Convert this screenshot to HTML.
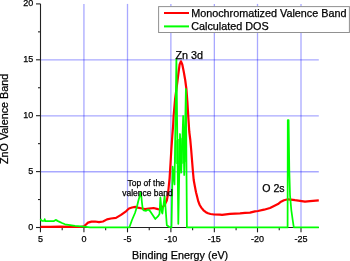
<!DOCTYPE html>
<html><head><meta charset="utf-8"><style>
html,body{margin:0;padding:0;background:#fff;}
svg{display:block;will-change:transform;}
text{font-family:"Liberation Sans",sans-serif;fill:#000;stroke:#000;stroke-width:0.25px;}
</style></head><body>
<svg width="350" height="261" viewBox="0 0 350 261">
<rect width="350" height="261" fill="#fff"/>
<g stroke="#0000ff" stroke-opacity="0.34" stroke-width="1.3" fill="none">
<line x1="83.93" y1="3.9" x2="83.93" y2="227.5"/>
<line x1="127.50" y1="3.9" x2="127.50" y2="227.5"/>
<line x1="170.88" y1="3.9" x2="170.88" y2="227.5"/>
<line x1="214.35" y1="3.9" x2="214.35" y2="227.5"/>
<line x1="257.50" y1="3.9" x2="257.50" y2="227.5"/>
<line x1="301.00" y1="3.9" x2="301.00" y2="227.5"/>
<line x1="40.5" y1="171.75" x2="318.8" y2="171.75"/>
<line x1="40.5" y1="115.85" x2="318.8" y2="115.85"/>
<line x1="40.5" y1="59.95" x2="318.8" y2="59.95"/>
</g>
<g stroke="#222" stroke-width="1.1" fill="none">
<line x1="40.5" y1="3.9" x2="40.5" y2="228"/>
<line x1="40" y1="227.5" x2="318.8" y2="227.5"/>
<line x1="36" y1="227.50" x2="40.5" y2="227.50"/>
<line x1="38" y1="199.55" x2="40.5" y2="199.55"/>
<line x1="36" y1="171.60" x2="40.5" y2="171.60"/>
<line x1="38" y1="143.65" x2="40.5" y2="143.65"/>
<line x1="36" y1="115.70" x2="40.5" y2="115.70"/>
<line x1="38" y1="87.75" x2="40.5" y2="87.75"/>
<line x1="36" y1="59.80" x2="40.5" y2="59.80"/>
<line x1="38" y1="31.85" x2="40.5" y2="31.85"/>
<line x1="36" y1="3.90" x2="40.5" y2="3.90"/>
<line x1="40.45" y1="227.5" x2="40.45" y2="232.3"/>
<line x1="62.19" y1="227.5" x2="62.19" y2="230.2"/>
<line x1="83.93" y1="227.5" x2="83.93" y2="232.3"/>
<line x1="105.67" y1="227.5" x2="105.67" y2="230.2"/>
<line x1="127.50" y1="227.5" x2="127.50" y2="232.3"/>
<line x1="149.24" y1="227.5" x2="149.24" y2="230.2"/>
<line x1="170.88" y1="227.5" x2="170.88" y2="232.3"/>
<line x1="192.62" y1="227.5" x2="192.62" y2="230.2"/>
<line x1="214.35" y1="227.5" x2="214.35" y2="232.3"/>
<line x1="236.09" y1="227.5" x2="236.09" y2="230.2"/>
<line x1="257.50" y1="227.5" x2="257.50" y2="232.3"/>
<line x1="279.24" y1="227.5" x2="279.24" y2="230.2"/>
<line x1="301.00" y1="227.5" x2="301.00" y2="232.3"/>
</g>
<polyline points="40.50,226.80 50.00,226.90 60.00,226.60 70.00,226.80 80.00,227.00 84.00,226.40 86.00,224.50 88.00,222.60 91.50,221.60 95.00,221.50 99.00,222.20 103.00,221.50 107.00,219.40 111.00,218.50 116.00,217.90 121.00,214.90 126.00,211.30 129.00,208.50 132.00,207.50 135.30,206.90 138.00,207.60 142.00,208.50 145.00,209.00 148.80,208.60 153.60,208.00 157.90,209.10 160.00,209.30 161.70,207.80 164.50,205.30 166.80,200.50 168.00,194.00 168.90,185.00 169.60,178.00 170.10,170.00 170.60,162.00 171.20,152.00 171.60,146.00 172.30,136.00 173.10,126.00 173.60,116.00 174.30,108.00 175.00,100.00 176.30,90.00 177.60,80.00 178.60,72.00 179.60,64.50 180.90,61.30 182.30,64.50 183.80,72.00 185.20,80.00 186.40,89.00 187.40,102.00 188.50,120.00 189.30,132.00 190.30,140.00 191.20,150.00 192.00,160.00 192.80,170.00 193.70,180.00 194.80,186.00 196.00,192.30 197.20,197.00 198.30,201.40 199.70,205.00 201.30,207.60 203.50,210.30 205.90,212.20 208.00,213.30 210.50,214.00 214.00,214.50 220.00,214.70 222.00,214.90 226.00,214.30 230.00,213.90 235.00,213.60 240.00,213.30 245.00,212.80 250.00,212.60 255.00,211.40 258.00,211.00 264.00,209.70 270.00,208.00 274.00,206.10 278.00,204.10 281.00,201.70 284.00,200.30 288.00,199.30 291.00,199.60 295.00,200.20 300.00,200.80 305.00,201.70 310.00,201.10 318.80,200.30" fill="none" stroke="#ff0000" stroke-width="2.2" stroke-linejoin="round"/>
<polygon points="174.9,142 177.5,139 180.5,139 182.5,137 186.9,137 186.9,161 184,163 182,164 176,164 174.9,162" fill="#00ff00" fill-opacity="0.7"/>
<polyline points="40.50,218.80 41.20,220.40 42.60,221.00 44.20,220.90 44.70,219.20 45.30,221.00 54.00,221.00 55.70,219.90 58.00,221.10 62.00,223.00 65.00,224.30 70.00,225.10 75.00,225.80 84.00,226.60 90.00,227.45 129.30,227.45 132.00,220.00 135.00,213.00 137.00,206.50 138.30,201.00 139.70,196.00 140.50,192.30 141.30,196.00 142.00,203.00 142.80,209.50 143.80,210.50 146.10,210.80 148.30,209.60 150.00,211.00 155.30,219.00 157.90,216.40 159.50,214.00 160.40,197.60 161.70,212.00 162.40,213.50 163.50,205.00 164.60,196.00 165.50,207.00 166.80,225.30 169.00,226.80 171.50,227.45 172.60,166.70 174.50,184.50 176.40,58.80 178.30,223.80 180.00,134.00 181.20,172.70 183.20,116.00 184.20,175.00 185.90,89.00 186.90,227.45 287.60,227.45 287.80,120.00 288.60,120.00 289.30,170.00 290.00,195.00 291.30,210.00 292.70,220.00 293.80,227.45 318.80,227.45" fill="none" stroke="#00ff00" stroke-width="1.75" stroke-linejoin="round"/>
<g opacity="0.999">
<g font-size="9">
<text x="33.3" y="229.90" text-anchor="end">0</text>
<text x="33.3" y="174.00" text-anchor="end">5</text>
<text x="33.3" y="118.10" text-anchor="end">10</text>
<text x="33.3" y="62.20" text-anchor="end">15</text>
<text x="33.3" y="6.30" text-anchor="end">20</text>
<text x="40.45" y="242.1" text-anchor="middle">5</text>
<text x="83.93" y="242.1" text-anchor="middle">0</text>
<text x="127.50" y="242.1" text-anchor="middle">-5</text>
<text x="170.88" y="242.1" text-anchor="middle">-10</text>
<text x="214.35" y="242.1" text-anchor="middle">-15</text>
<text x="257.50" y="242.1" text-anchor="middle">-20</text>
<text x="301.00" y="242.1" text-anchor="middle">-25</text>
</g>
<text x="180.1" y="258.9" font-size="10.75" text-anchor="middle">Binding Energy (eV)</text>
<text transform="translate(8.1,118.9) rotate(-90)" font-size="10.8" text-anchor="middle">ZnO Valence Band</text>
<text x="175.5" y="59.1" font-size="10.8">Zn 3d</text>
<text x="262.3" y="191.5" font-size="10.6">O 2s</text>
<g font-size="8.5" text-anchor="middle">
<text x="146.2" y="185.9">Top of the</text>
<text x="147.5" y="196.0">valence band</text>
</g>
</g>
<rect x="158.6" y="6.6" width="190.8" height="25.9" fill="#fff" stroke="#919191" stroke-width="1"/>
<line x1="164" y1="13" x2="189" y2="13" stroke="#ff0000" stroke-width="2"/>
<line x1="164" y1="26.4" x2="189" y2="26.4" stroke="#00ff00" stroke-width="2"/>
<g opacity="0.999">
<text x="191.2" y="17.2" font-size="10.8">Monochromatized Valence Band</text>
<text x="191.2" y="30.3" font-size="10.8">Calculated DOS</text>
</g>
</svg>
</body></html>
